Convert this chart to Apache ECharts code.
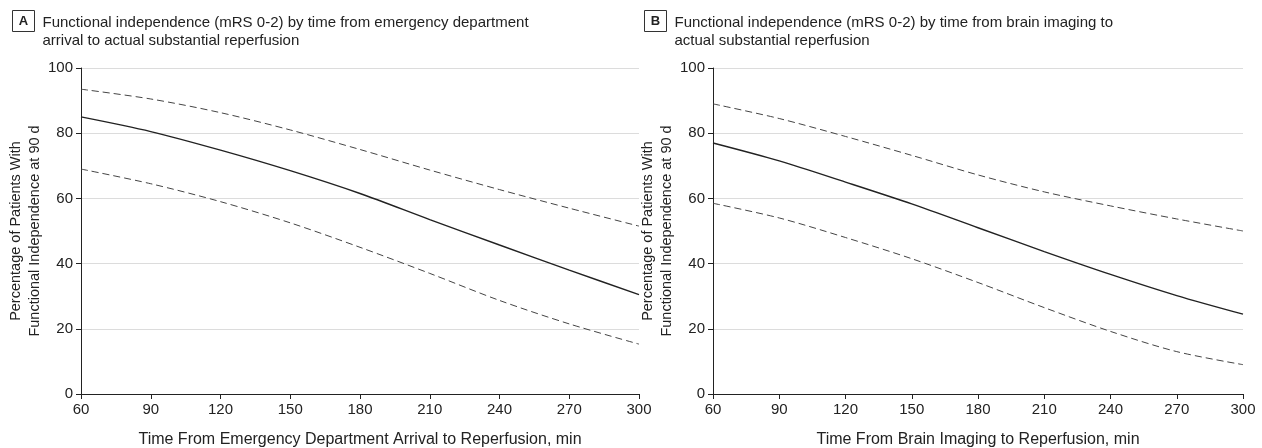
<!DOCTYPE html>
<html><head><meta charset="utf-8">
<script src="https://cdn.jsdelivr.net/npm/echarts@6/dist/echarts.min.js"></script>
<style>html,body{margin:0;padding:0;background:#fff}#c{width:1262px;height:448px}</style>
</head><body><div id="c"></div>
<script>
var xTicks = [60, 90, 120, 150, 180, 210, 240, 270, 300];
var aCenter = [85, 80.5, 74.8, 68.5, 61.5, 53.5, 45.7, 38, 30.5];
var aUpper  = [93.5, 90.5, 86.3, 81, 75, 68.7, 62.7, 57, 51.5];
var aLower  = [69, 64.5, 59, 52.5, 45, 37, 28.7, 21.5, 15.3];
var bCenter = [77, 71.5, 65, 58.3, 51, 43.7, 36.7, 30.2, 24.5];
var bUpper  = [89, 84.5, 79, 73.2, 67.2, 62, 57.7, 53.7, 50];
var bLower  = [58.5, 54, 48, 41.5, 34.2, 26.5, 19.2, 13, 9];
var titleA = ['Functional independence (mRS 0-2) by time from emergency department', 'arrival to actual substantial reperfusion'];
var titleB = ['Functional independence (mRS 0-2) by time from brain imaging to', 'actual substantial reperfusion'];
var xNameA = 'Time From Emergency Department Arrival to Reperfusion, min';
var xNameB = 'Time From Brain Imaging to Reperfusion, min';
var yName = 'Percentage of Patients With\nFunctional Independence at 90 d';

var FONT = '"Liberation Sans", Arial, sans-serif';
function pairs(v){ return xTicks.map(function(x,i){return [x, v[i]];}); }
function xAxis(idx, name){
  return {type:'value', gridIndex:idx, min:60, max:300, interval:30, name:name,
    nameLocation:'middle', nameGap:38, nameTextStyle:{fontFamily:FONT, fontSize:16, color:'#222'},
    axisLine:{lineStyle:{color:'#222', width:1}}, axisTick:{show:true, length:5, lineStyle:{color:'#222'}},
    axisLabel:{fontFamily:FONT, fontSize:15, color:'#222', margin:8}, splitLine:{show:false}};
}
function yAxis(idx){
  return {type:'value', gridIndex:idx, min:0, max:100, interval:20, name:yName,
    nameLocation:'middle', nameGap:31, nameRotate:90,
    nameTextStyle:{fontFamily:FONT, fontSize:14.5, color:'#222', lineHeight:19},
    axisLine:{show:true, lineStyle:{color:'#222', width:1}}, axisTick:{show:true, length:5, lineStyle:{color:'#222'}},
    axisLabel:{fontFamily:FONT, fontSize:15, color:'#222', margin:8},
    splitLine:{show:true, lineStyle:{color:'#dcdcdc', width:1}}};
}
function ser(idx, data, dashed){
  return {type:'line', xAxisIndex:idx, yAxisIndex:idx, data:pairs(data), smooth:0.3, symbol:'none',
    lineStyle: dashed ? {color:'#444', width:1, type:[7,4]} : {color:'#222', width:1.4}, silent:true};
}
function titleGroup(left, letter, lines){
  return {type:'group', left:left, top:10, children:[
    {type:'rect', shape:{x:0, y:0, width:22, height:21}, style:{fill:'#fff', stroke:'#333', lineWidth:1}},
    {type:'text', x:11, y:10.5, style:{text:letter, font:'bold 13px '+FONT, fill:'#222', align:'center', verticalAlign:'middle'}},
    {type:'text', x:30, y:3, style:{text:lines.join('\n'), font:'15px '+FONT, fill:'#222', lineHeight:18}}
  ]};
}
var chart = echarts.init(document.getElementById('c'), null, {renderer:'canvas'});
chart.setOption({
  animation:false,
  grid:[{left:81, top:68, width:558, height:326, outerBoundsMode:'none', containLabel:false},
        {left:713, top:68, width:530, height:326, outerBoundsMode:'none', containLabel:false}],
  xAxis:[xAxis(0, xNameA), xAxis(1, xNameB)],
  yAxis:[yAxis(0), yAxis(1)],
  series:[ser(0,aUpper,true), ser(0,aCenter,false), ser(0,aLower,true),
          ser(1,bUpper,true), ser(1,bCenter,false), ser(1,bLower,true)],
  graphic:[titleGroup(12,'A',titleA), titleGroup(644,'B',titleB)]
});
</script></body></html>
